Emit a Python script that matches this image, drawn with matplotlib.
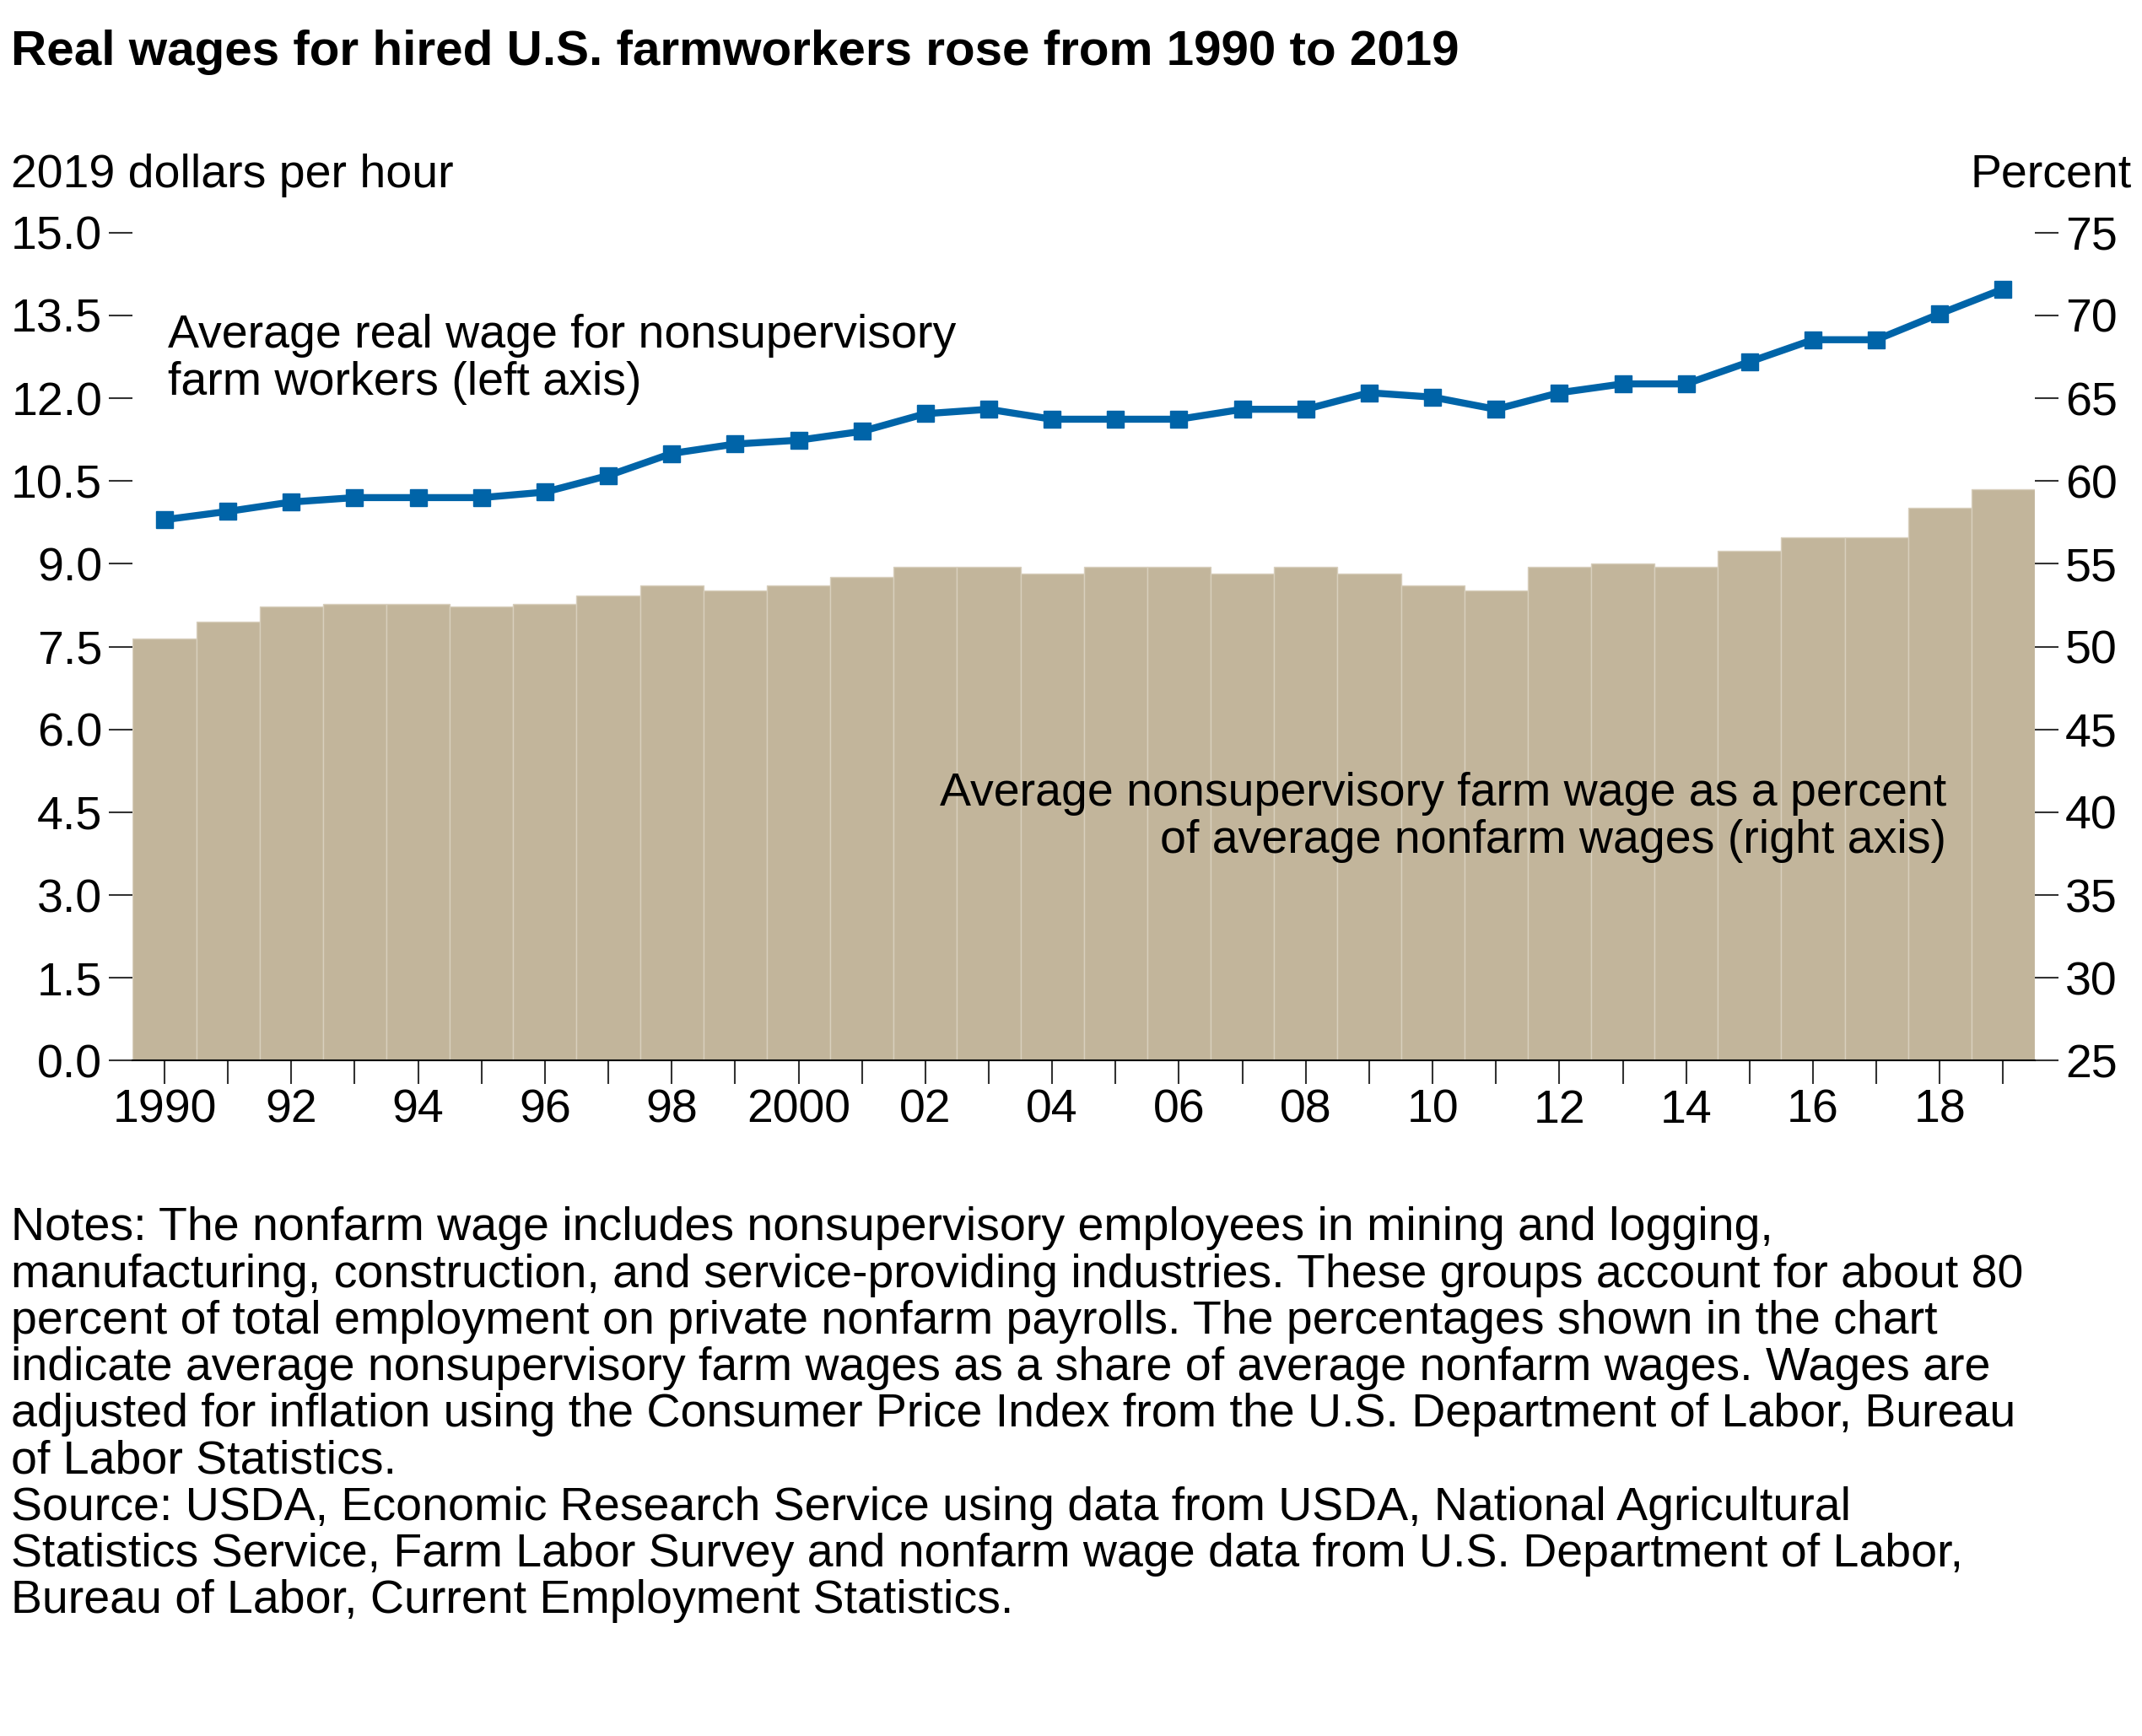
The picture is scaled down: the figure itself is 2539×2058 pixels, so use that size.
import numpy as np
import matplotlib
matplotlib.use("Agg")
import matplotlib.pyplot as plt

plt.rcParams['font.family'] = ['Liberation Sans', 'DejaVu Sans']

# ── data ──
years = list(range(1990, 2020))
real_wage = [9.80, 9.95, 10.12, 10.20, 10.20, 10.20, 10.30, 10.60, 11.00, 11.17,
             11.24, 11.40, 11.72, 11.80, 11.62, 11.62, 11.62, 11.80, 11.80, 12.10,
             12.02, 11.80, 12.10, 12.26, 12.26, 12.66, 13.06, 13.06, 13.53, 13.98]
pct_nonfarm = [50.5, 51.5, 52.4, 52.6, 52.6, 52.4, 52.6, 53.1, 53.7, 53.4,
               53.7, 54.2, 54.8, 54.8, 54.4, 54.8, 54.8, 54.4, 54.8, 54.4,
               53.7, 53.4, 54.8, 55.0, 54.8, 55.8, 56.6, 56.6, 58.4, 59.5]
xtick_labels = ['1990', '92', '94', '96', '98', '2000', '02', '04', '06', '08',
                '10', '12', '14', '16', '18']

FS = 40
fig = plt.figure(figsize=(25.39, 20.58), dpi=100)
ax = fig.add_axes([0.062, 0.389, 0.888, 0.477])
ax2 = ax.twinx()

# bars on right axis, drawn behind the line
ax2.bar(years, [p - 25 for p in pct_nonfarm], bottom=25, width=1.0,
        color='#c2b59b', edgecolor='#d8cfbd', linewidth=1)
ax2.set_ylim(25, 75)
ax2.set_yticks(range(25, 80, 5))
ax.set_zorder(ax2.get_zorder() + 1)
ax.patch.set_visible(False)

ax.plot(years, real_wage, color='#0064a8', linewidth=6, marker='s',
        markersize=14, zorder=3)
ax.set_ylim(0, 15)
ax.set_yticks(np.arange(0, 15.01, 1.5))
ax.set_yticklabels([f'{v:.1f}' for v in np.arange(0, 15.01, 1.5)])
ax.set_xlim(1989.5, 2019.5)
ax.set_xticks(years)
ax.set_xticklabels([xtick_labels[i // 2] if i % 2 == 0 else '' for i in range(len(years))])

for a in (ax, ax2):
    a.spines['top'].set_visible(False)
    a.spines['left'].set_visible(False)
    a.spines['right'].set_visible(False)
    a.tick_params(labelsize=FS, length=20, width=1.5, color='#333333')
ax2.spines['bottom'].set_visible(False)
ax.spines['bottom'].set_linewidth(1.5)
ax.tick_params(axis='y', direction='out', pad=6)
ax2.tick_params(axis='y', direction='out', pad=6)
ax.tick_params(axis='x', length=20, pad=4)

ax.text(1990.05, 12.7, 'Average real wage for nonsupervisory\nfarm workers (left axis)',
        fontsize=FS, ha='left', va='center', linespacing=1.1)
ax.text(2018.1, 4.4, 'Average nonsupervisory farm wage as a percent\nof average nonfarm wages (right axis)',
        fontsize=FS, ha='right', va='center', linespacing=1.1)

fig.text(0.005, 0.983, 'Real wages for hired U.S. farmworkers rose from 1990 to 2019',
         fontsize=42, fontweight='bold', ha='left', va='top')
fig.text(0.005, 0.899, '2019 dollars per hour', fontsize=FS, ha='left', va='center')
fig.text(0.995, 0.899, 'Percent', fontsize=FS, ha='right', va='center')

notes = ("Notes: The nonfarm wage includes nonsupervisory employees in mining and logging,\n"
         "manufacturing, construction, and service-providing industries. These groups account for about 80\n"
         "percent of total employment on private nonfarm payrolls. The percentages shown in the chart\n"
         "indicate average nonsupervisory farm wages as a share of average nonfarm wages. Wages are\n"
         "adjusted for inflation using the Consumer Price Index from the U.S. Department of Labor, Bureau\n"
         "of Labor Statistics.\n"
         "Source: USDA, Economic Research Service using data from USDA, National Agricultural\n"
         "Statistics Service, Farm Labor Survey and nonfarm wage data from U.S. Department of Labor,\n"
         "Bureau of Labor, Current Employment Statistics.")
fig.text(0.005, 0.305, notes, fontsize=FS, ha='left', va='top', linespacing=1.08)

fig.savefig('out.png', dpi=100)
